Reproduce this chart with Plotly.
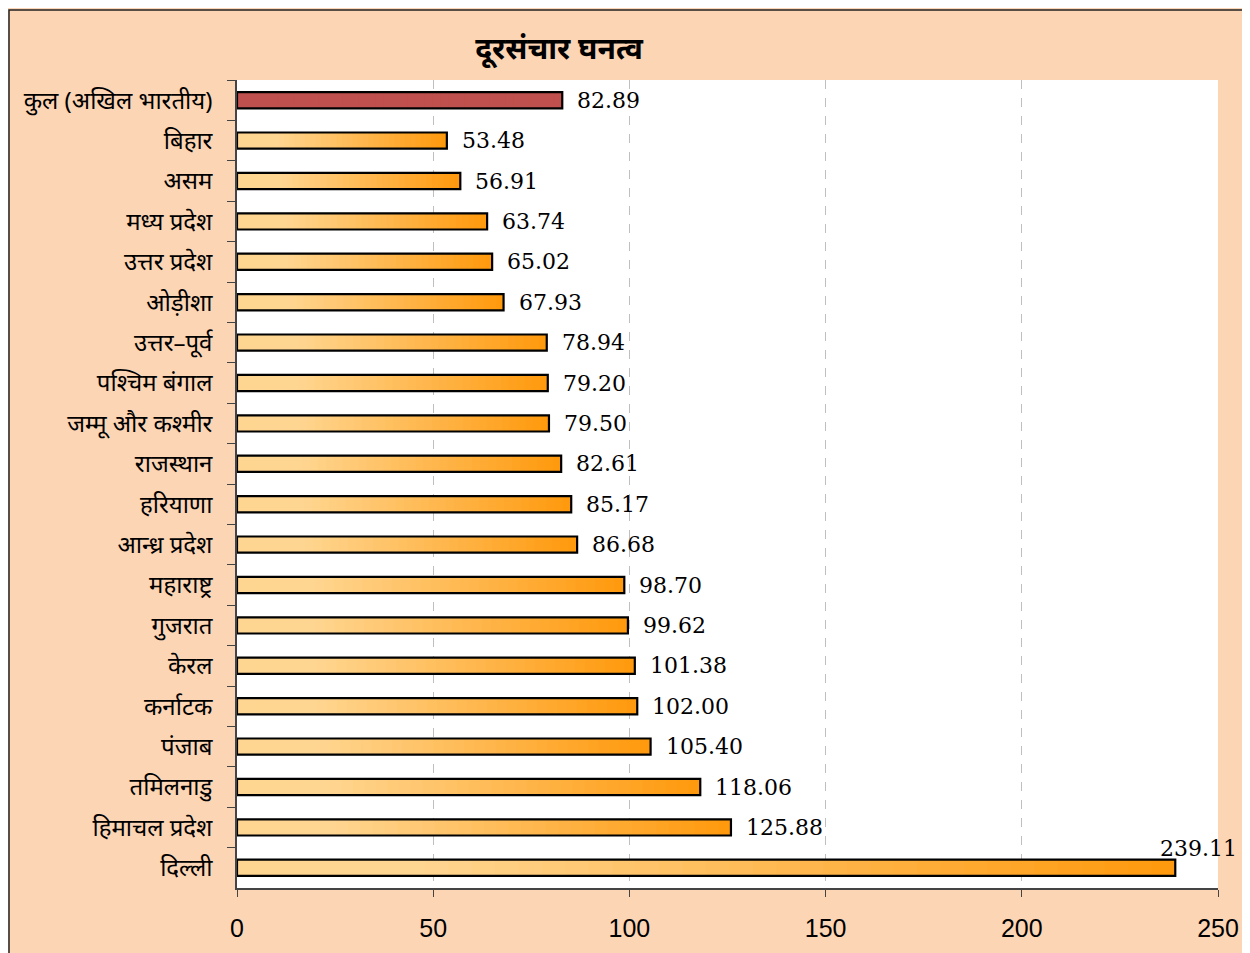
import plotly.graph_objects as go

categories = ["कुल (अखिल भारतीय)", "बिहार", "असम", "मध्य प्रदेश", "उत्तर प्रदेश", "ओड़ीशा",
              "उत्तर–पूर्व", "पश्चिम बंगाल", "जम्मू और कश्मीर", "राजस्थान", "हरियाणा",
              "आन्ध्र प्रदेश", "महाराष्ट्र", "गुजरात", "केरल", "कर्नाटक", "पंजाब",
              "तमिलनाडु", "हिमाचल प्रदेश", "दिल्ली"]
values = [82.89, 53.48, 56.91, 63.74, 65.02, 67.93, 78.94, 79.20, 79.50, 82.61,
          85.17, 86.68, 98.70, 99.62, 101.38, 102.00, 105.40, 118.06, 125.88, 239.11]
title_text = "दूरसंचार घनत्व"
x_ticks = [0, 50, 100, 150, 200, 250]

TOTAL_COLOR = "#C0504D"
LIGHT = (255, 214, 145)
DARK = (255, 152, 10)
N = 40

def ramp(t):
    u = min(max((t - 0.18) / 0.82, 0.0), 1.0)
    c = [round(LIGHT[i] + (DARK[i] - LIGHT[i]) * u) for i in range(3)]
    return "rgb(%d,%d,%d)" % tuple(c)

fig = go.Figure()
for k in range(N):
    t = k / N
    bases = [v * t for v in values]
    lens = [v * (1 - t) for v in values]
    colors = [TOTAL_COLOR if i == 0 else ramp(t) for i in range(len(values))]
    fig.add_trace(go.Bar(y=categories, x=lens, base=bases, orientation="h", width=0.4,
                         marker=dict(color=colors, line=dict(width=0)),
                         hoverinfo="skip", showlegend=False))
fig.add_trace(go.Bar(y=categories, x=values, orientation="h", width=0.4,
                     marker=dict(color="rgba(0,0,0,0)", line=dict(color="black", width=2.2)),
                     showlegend=False))

LABEL_FONT = dict(family="DejaVu Serif", size=22, color="black")
vmax = max(values)
for c, v in zip(categories, values):
    if v == vmax:
        fig.add_annotation(x=v, y=c, text=f"{v:.2f}", showarrow=False, xanchor="left",
                           xshift=-17, yshift=19, font=LABEL_FONT)
    else:
        fig.add_annotation(x=v, y=c, text=f"{v:.2f}", showarrow=False, xanchor="left",
                           xshift=13, font=LABEL_FONT)

# page has an 8px body margin; compensate
OFF = 8
W, H = 1250 - OFF, 953 - OFF
L, T = 237 - OFF, 80 - OFF
pw, ph = 981, 808
R = W - L - pw
B = H - T - ph

fig.add_shape(type="rect", xref="paper", yref="paper", layer="above",
              x0=(1 - L) / pw, x1=(W + 20 - L) / pw,
              y0=-(H + 20 - (T + ph)) / ph, y1=1 + (T - 2) / ph,
              fillcolor="rgba(0,0,0,0)", line=dict(color="#222222", width=1.5))

fig.update_layout(
    width=W, height=H, barmode="overlay",
    margin=dict(l=L, r=R, t=T, b=B, autoexpand=False),
    paper_bgcolor="#FCD5B5", plot_bgcolor="white",
    title=dict(text="<b>" + title_text + "</b>", x=(559 - 237) / pw, xref="paper", xanchor="center",
               y=1 - (48 - OFF) / H, yanchor="middle",
               font=dict(family="Noto Sans", size=30, color="black")),
    font=dict(family="Noto Sans", color="black"),
)
fig.update_xaxes(range=[0, 250], tickvals=x_ticks, showgrid=True, gridcolor="#BFBFBF",
                 griddash="dash", gridwidth=1, zeroline=False, showline=True,
                 linecolor="#444444", linewidth=1.5, ticks="outside", ticklen=7,
                 tickcolor="#444444", tickfont=dict(family="Liberation Sans", size=25),
                 ticklabelstandoff=10, automargin=False)
fig.update_yaxes(range=[len(categories) - 0.5, -0.5], showline=True, linecolor="#444444",
                 linewidth=1.5, ticks="outside", ticklen=8, tickcolor="#444444",
                 tickson="boundaries", showgrid=False, automargin=False,
                 tickfont=dict(family="Noto Sans", size=24), ticklabelstandoff=18)

fig.write_html("out.html")
